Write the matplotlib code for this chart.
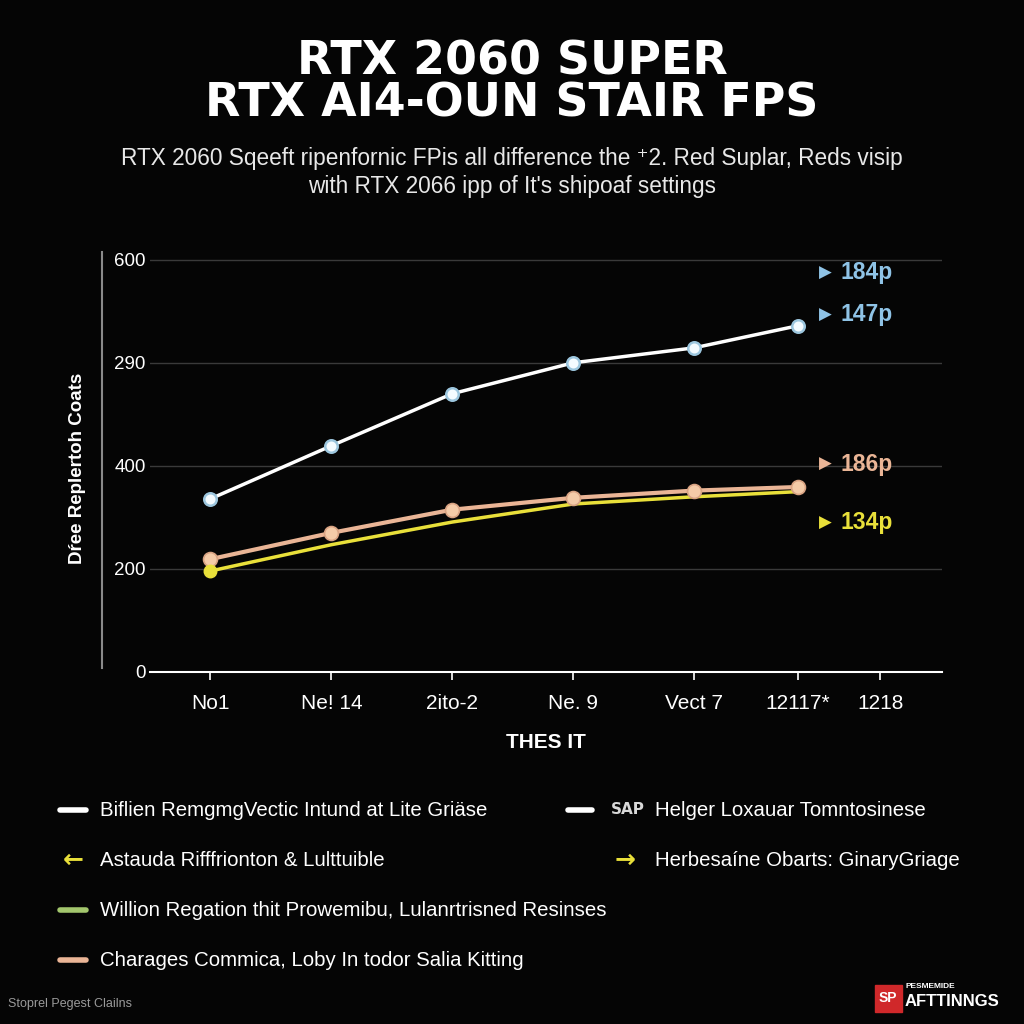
import matplotlib
matplotlib.use("Agg")
import matplotlib.pyplot as plt
from matplotlib.lines import Line2D
from matplotlib.patches import Rectangle

# --- datos ---
categorias = ['No1', 'Ne! 14', '2ito-2', 'Ne. 9', 'Vect 7', '12117*', '1218']
x_cat = [0, 1, 2, 3, 4, 4.86, 5.54]          # posiciones de las categorias en el eje
x_datos = [0, 1, 2, 3, 4, 4.86]

serie_blanca = [336, 439, 540, 600, 629, 672]
serie_melocoton = [219, 270, 315, 338, 352, 359]
serie_amarilla = [196, 247, 291, 326, 340, 350]

y_ticks = [0, 200, 400, 600, 800]
y_ticklabels = ['0', '200', '400', '290', '600']

etiquetas_fin = ['184p', '147p', '186p', '134p']

leyenda_izq = [
    'Biflien RemgmgVectic Intund at Lite Griäse',
    'Astauda Rifffrionton & Lulttuible',
    'Willion Regation thit Prowemibu, Lulanrtrisned Resinses',
    'Charages Commica, Loby In todor Salia Kitting',
]
leyenda_der = [
    'Helger Loxauar Tomntosinese',
    'Herbesaíne Obarts: GinaryGriage',
]

FONDO = '#050505'
BLANCO = '#ffffff'
AZUL = '#8fc3e6'
MELOCOTON = '#eab596'
AMARILLO = '#e9e03a'
VERDE = '#a3c66d'

plt.rcParams['font.family'] = ['Liberation Sans', 'DejaVu Sans']

fig = plt.figure(figsize=(10.24, 10.24), dpi=100, facecolor=FONDO)
ax = fig.add_axes([150 / 1024, 1 - 672 / 1024, 792 / 1024, 420 / 1024])
ax.set_facecolor(FONDO)

# lineas
ax.plot(x_datos, serie_melocoton, color=MELOCOTON, lw=3, zorder=3,
        marker='o', markersize=10, markerfacecolor='#f4cba8', markeredgecolor='#d9a383',
        markeredgewidth=1.2)
ax.plot(x_datos, serie_amarilla, color=AMARILLO, lw=2.5, zorder=2)
ax.plot(x_datos[:1], serie_amarilla[:1], 'o', color=AMARILLO, markersize=9, zorder=4)
ax.plot(x_datos, serie_blanca, color=BLANCO, lw=2.5, zorder=3,
        marker='o', markersize=9, markerfacecolor='#f4fbff', markeredgecolor='#9cc6de',
        markeredgewidth=1.8)

# ejes
ax.set_xlim(-0.5, 6.05)
ax.set_ylim(0, 815)
ax.set_yticks(y_ticks)
ax.set_yticklabels(y_ticklabels, color=BLANCO, fontsize=13.5)
ax.set_xticks(x_cat)
ax.set_xticklabels(categorias, color=BLANCO, fontsize=15)
ax.tick_params(axis='y', length=0, pad=3)
ax.tick_params(axis='x', length=6, width=1.2, color=BLANCO, pad=10)
ax.grid(True, axis='y', color='#3a3a3a', lw=1)
for lado in ['top', 'right', 'left']:
    ax.spines[lado].set_visible(False)
ax.spines['bottom'].set_color(BLANCO)
ax.spines['bottom'].set_linewidth(1.5)
ax.set_xlabel('THES IT', color=BLANCO, fontsize=15, fontweight='bold', labelpad=14)

# linea vertical separada del eje y
fig.add_artist(Line2D([102 / 1024, 102 / 1024], [1 - 252 / 1024, 1 - 668 / 1024],
                      color='#8a8a8a', lw=1.5))
fig.text(78 / 1024, 1 - 468 / 1024, 'Dŕee Replertoh Coats', color=BLANCO, fontsize=13.5,
         fontweight='bold', rotation=90, ha='center', va='center')

# etiquetas al final de las lineas
colores_fin = [AZUL, AZUL, MELOCOTON, AMARILLO]
y_fin = [273, 315, 464, 523]
for texto, col, yp in zip(etiquetas_fin, colores_fin, y_fin):
    fig.text(819 / 1024, 1 - yp / 1024, '▶', color=col, fontsize=12,
             ha='left', va='center', family='DejaVu Sans')
    fig.text(840 / 1024, 1 - yp / 1024, texto, color=col, fontsize=16.5,
             fontweight='bold', ha='left', va='center')

# titulos
fig.text(0.5, 1 - 62 / 1024, 'RTX 2060 SUPER', color=BLANCO, fontsize=33,
         fontweight='bold', ha='center', va='center', family='DejaVu Sans')
fig.text(0.5, 1 - 104 / 1024, 'RTX AI4-OUN STAIR FPS', color=BLANCO, fontsize=33,
         fontweight='bold', ha='center', va='center', family='DejaVu Sans')
fig.text(0.5, 1 - 158 / 1024,
         "RTX 2060 Sqeeft ripenfornic FPis all difference the ⁺2. Red Suplar, Reds visip",
         color='#e8e8e8', fontsize=16.3, ha='center', va='center')
fig.text(0.5, 1 - 187 / 1024, "with RTX 2066 ipp of It's shipoaf settings",
         color='#e8e8e8', fontsize=16.3, ha='center', va='center')

# leyenda manual
filas_y = [810, 860, 910, 960]
estilos_izq = ['linea', 'flecha_izq', 'linea', 'linea']
colores_izq = [BLANCO, AMARILLO, VERDE, MELOCOTON]
for texto, yp, estilo, col in zip(leyenda_izq, filas_y, estilos_izq, colores_izq):
    yf = 1 - yp / 1024
    if estilo == 'linea':
        fig.add_artist(Line2D([60 / 1024, 86 / 1024], [yf, yf], color=col, lw=4,
                              solid_capstyle='round'))
    else:
        fig.text(73 / 1024, yf, '←', color=col, fontsize=18, fontweight='bold',
                 ha='center', va='center', family='DejaVu Sans')
    fig.text(100 / 1024, yf, texto, color=BLANCO, fontsize=14.7, ha='left', va='center')

yf = 1 - filas_y[0] / 1024
fig.add_artist(Line2D([568 / 1024, 592 / 1024], [yf, yf], color=BLANCO, lw=4,
                      solid_capstyle='round'))
fig.text(611 / 1024, yf, 'SAP', color='#d8d8d8', fontsize=11, fontweight='bold',
         ha='left', va='center', family='DejaVu Sans')
fig.text(655 / 1024, yf, leyenda_der[0], color=BLANCO, fontsize=14.7, ha='left', va='center')
yf = 1 - filas_y[1] / 1024
fig.text(625 / 1024, yf, '→', color=AMARILLO, fontsize=18, fontweight='bold',
         ha='center', va='center', family='DejaVu Sans')
fig.text(655 / 1024, yf, leyenda_der[1], color=BLANCO, fontsize=14.7, ha='left', va='center')

# pie y logo
fig.text(8 / 1024, 1 - 1004 / 1024, 'Stoprel Pegest Clailns', color='#9a9a9a',
         fontsize=9, ha='left', va='center')
fig.add_artist(Rectangle((875 / 1024, 1 - 1012 / 1024), 27 / 1024, 27 / 1024,
                         transform=fig.transFigure, color='#d0282a'))
fig.text(888 / 1024, 1 - 998 / 1024, 'SP', color=BLANCO, fontsize=10, fontweight='bold',
         ha='center', va='center')
fig.text(905 / 1024, 1 - 987 / 1024, 'PESMEMIDE', color=BLANCO, fontsize=6,
         fontweight='bold', ha='left', va='center')
fig.text(905 / 1024, 1 - 1002 / 1024, 'AFTTINNGS', color=BLANCO, fontsize=12,
         fontweight='bold', ha='left', va='center')

fig.savefig('out.png', dpi=100, facecolor=FONDO)
